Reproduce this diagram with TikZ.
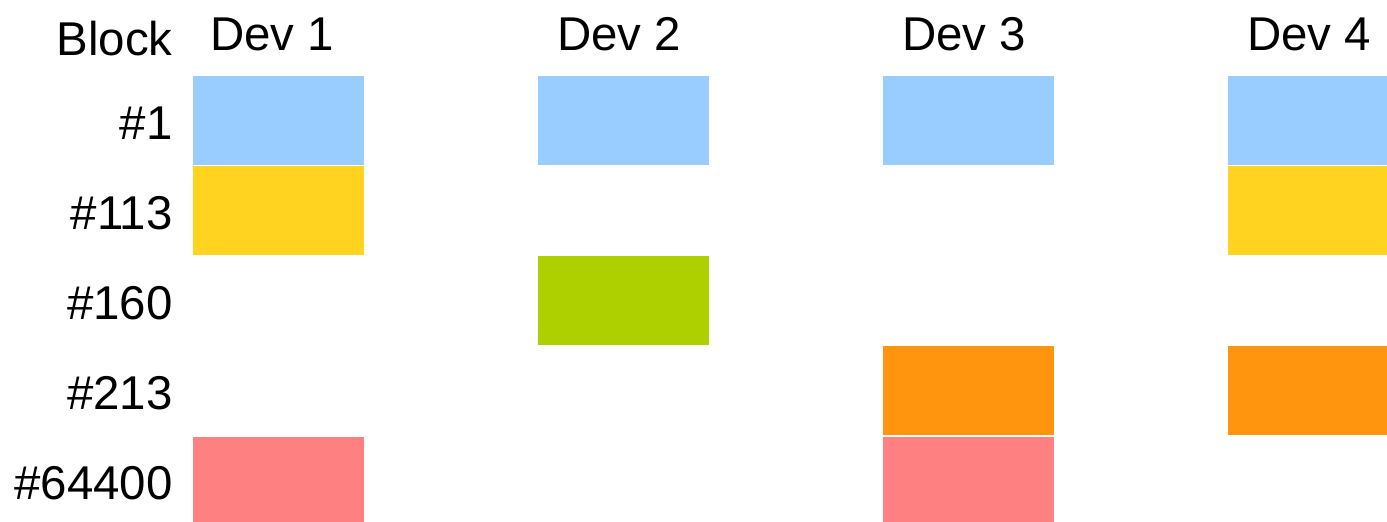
\documentclass[tikz,border=0pt]{standalone}
\usepackage{fontspec}
\setmainfont{Liberation Sans}
\usepackage{tikz}

\definecolor{blkblue}{HTML}{99CCFF}
\definecolor{blkyellow}{HTML}{FFD320}
\definecolor{blkgreen}{HTML}{AECF00}
\definecolor{blkorange}{HTML}{FF950E}
\definecolor{blkpink}{HTML}{FF8080}

\begin{document}
\begin{tikzpicture}[x=0.02cm,y=-0.02cm,
  every node/.style={font=\fontsize{27}{31}\selectfont},
  cell/.style={inner sep=0pt,minimum width=3.42cm,minimum height=1.78cm},
  rowlab/.style={anchor=base east,inner sep=0pt},
  devlab/.style={anchor=base,inner sep=0pt}]
\useasboundingbox (0,0) rectangle (1387,521);
\clip (0,0) rectangle (1387,521);
% headings
\node [rowlab] (block) at (173,55) {Block};
\node [devlab] (dev1) at (272,50) {Dev 1};
\node [devlab] (dev2) at (619,50) {Dev 2};
\node [devlab] (dev3) at (964,50) {Dev 3};
\node [devlab] (dev4) at (1309,50) {Dev 4};
% block numbers
\node [rowlab] (r1) at (173,139) {\#1};
\node [rowlab] (r2) at (173,229) {\#113};
\node [rowlab] (r3) at (173,319) {\#160};
\node [rowlab] (r4) at (173,409) {\#213};
\node [rowlab] (r5) at (173,499) {\#64400};
% Dev 1
\node [cell,fill=blkblue] (d1b1) at (278.5,120.5) {};
\node [cell,fill=blkyellow] (d1b2) at (278.5,210.5) {};
\node [cell,fill=blkpink] (d1b5) at (278.5,481) {};
% Dev 2
\node [cell,fill=blkblue] (d2b1) at (623.5,120.5) {};
\node [cell,fill=blkgreen] (d2b3) at (623.5,300.5) {};
% Dev 3
\node [cell,fill=blkblue] (d3b1) at (968.5,120.5) {};
\node [cell,fill=blkorange] (d3b4) at (968.5,390.5) {};
\node [cell,fill=blkpink] (d3b5) at (968.5,481) {};
% Dev 4
\node [cell,fill=blkblue] (d4b1) at (1313.5,120.5) {};
\node [cell,fill=blkyellow] (d4b2) at (1313.5,210.5) {};
\node [cell,fill=blkorange] (d4b4) at (1313.5,390.5) {};
\end{tikzpicture}
\end{document}
